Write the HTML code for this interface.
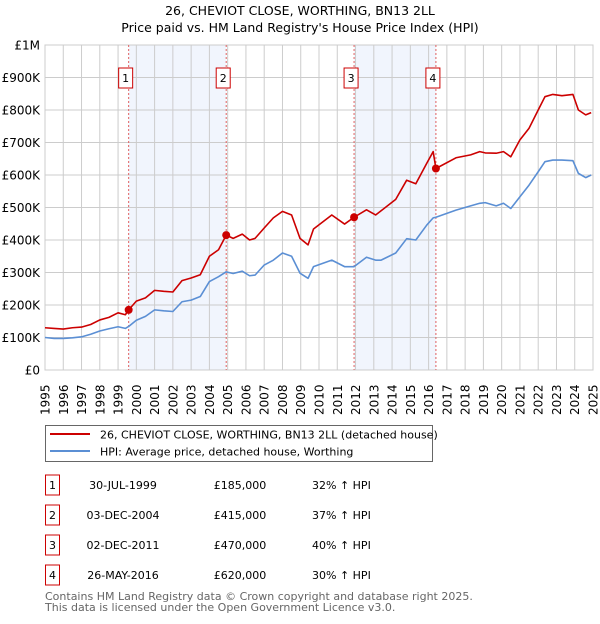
<!DOCTYPE html>
<html><head><meta charset="utf-8"><style>
body{margin:0;background:#fff;font-family:"DejaVu Sans","Liberation Sans",sans-serif;}
svg text{font-family:"DejaVu Sans","Liberation Sans",sans-serif;}
</style></head><body>
<svg id="c" width="600" height="620">
<text x="300" y="15" font-size="12.5" text-anchor="middle">26, CHEVIOT CLOSE, WORTHING, BN13 2LL</text>
<text x="300" y="32" font-size="12.5" text-anchor="middle">Price paid vs. HM Land Registry's House Price Index (HPI)</text>
<g id="plot"></g>
<g>
<rect x="45.5" y="425.5" width="387" height="36" fill="#fff" stroke="#666"/>
<line x1="50" y1="434" x2="90" y2="434" stroke="#cc0000" stroke-width="2"/>
<text x="100" y="438.5" font-size="11">26, CHEVIOT CLOSE, WORTHING, BN13 2LL (detached house)</text>
<line x1="50" y1="451" x2="90" y2="451" stroke="#5b8fd4" stroke-width="2"/>
<text x="100" y="455.5" font-size="11">HPI: Average price, detached house, Worthing</text>
</g>
<g id="tbl"></g>
<text x="45" y="600" font-size="11" fill="#666">Contains HM Land Registry data © Crown copyright and database right 2025.</text>
<text x="45" y="611" font-size="11" fill="#666">This data is licensed under the Open Government Licence v3.0.</text>
</svg>
<script>
const redT=[1995,1995.5,1996,1996.5,1997,1997.5,1998,1998.5,1999,1999.4,1999.58,2000,2000.5,2001,2001.5,2002,2002.5,2003,2003.5,2004,2004.5,2004.92,2005.3,2005.8,2006.2,2006.5,2007,2007.5,2008,2008.5,2008.96,2009.4,2009.7,2010.7,2011.4,2011.92,2012.6,2013.1,2013.4,2014.2,2014.8,2015.3,2015.9,2016.25,2016.4,2017.5,2018.3,2018.8,2019.1,2019.7,2020.1,2020.5,2021,2021.5,2022,2022.37,2022.8,2023.3,2023.9,2024.2,2024.6,2024.9];
const redV=[130,128,126,130,132,140,154,162,176,170,185,212,222,245,242,240,275,283,293,350,370,415,405,418,400,405,437,468,488,477,405,385,434,477,449,470,493,477,490,525,584,573,636,672,620,653,662,672,668,667,672,656,708,744,800,841,848,844,848,800,785,792];
const hpiT=[1995,1995.5,1996,1996.5,1997,1997.5,1998,1998.5,1999,1999.4,1999.58,2000,2000.5,2001,2001.5,2002,2002.5,2003,2003.5,2004,2004.5,2004.92,2005.3,2005.8,2006.2,2006.5,2007,2007.5,2008,2008.5,2008.96,2009.4,2009.7,2010.7,2011.4,2011.92,2012.6,2013.1,2013.4,2014.2,2014.8,2015.3,2015.9,2016.25,2016.4,2017.5,2018.3,2018.8,2019.1,2019.7,2020.1,2020.5,2021,2021.5,2022,2022.37,2022.8,2023.3,2023.9,2024.2,2024.6,2024.9];
const hpiV=[100,97,97,99,102,110,120,127,133,128,134,153,165,185,182,180,210,215,226,272,287,302,297,304,290,292,323,338,360,350,298,282,318,338,318,318,347,338,338,360,404,400,446,468,470,492,505,513,515,505,513,497,533,569,610,641,646,646,644,605,592,600];
const saleT=[1999.58,2004.92,2011.92,2016.4];
const saleV=[185,415,470,620];
const saleLabels=["1","2","3","4"];
const saleDates=["30-JUL-1999","03-DEC-2004","02-DEC-2011","26-MAY-2016"];
const salePrices=["£185,000","£415,000","£470,000","£620,000"];
const saleHpi=["32% ↑ HPI","37% ↑ HPI","40% ↑ HPI","30% ↑ HPI"];
const yTicks=[0,100,200,300,400,500,600,700,800,900,1000];
const yTickLabels=["£0","£100K","£200K","£300K","£400K","£500K","£600K","£700K","£800K","£900K","£1M"];
const xYears=[1995,1996,1997,1998,1999,2000,2001,2002,2003,2004,2005,2006,2007,2008,2009,2010,2011,2012,2013,2014,2015,2016,2017,2018,2019,2020,2021,2022,2023,2024,2025];
const L=45,R=593,T=45,B=370;
const xs=t=>L+(t-1995)/30*(R-L);
const ys=v=>B-v/1000*(B-T);
const NS="http://www.w3.org/2000/svg";
const plot=document.getElementById('plot');
function mk(tag,attrs,parent){const e=document.createElementNS(NS,tag);for(const k in attrs)e.setAttribute(k,attrs[k]);(parent||plot).appendChild(e);return e;}
// shading
for(let i=0;i<saleT.length;i+=2){
 const r=mk('rect',{x:xs(saleT[i]),y:T,width:xs(saleT[i+1])-xs(saleT[i]),height:B-T,fill:'#eef3fc',opacity:0.8});
 
 
}
// grid
xYears.forEach(y=>{const l=mk('line',{x1:xs(y),x2:xs(y),y1:T,y2:B,stroke:'#cccccc','stroke-width':1});
 
 
 const t=mk('text',{transform:`translate(${xs(y)+4.5},${B+45}) rotate(-90)`,'font-size':12});
 t.textContent=y;
 
 
});
for(let t=1995;t<2025;t+=0.25){if(Math.abs(t-Math.round(t))<0.01)continue;} 
yTicks.forEach((v,i)=>{const l=mk('line',{x1:L,x2:R,y1:ys(v),y2:ys(v),stroke:'#cccccc','stroke-width':1});
 
 
 const t=mk('text',{x:40,y:ys(v)+4.5,'font-size':12,'text-anchor':'end'});
 t.textContent=yTickLabels[i];
 
 
});
const fr=mk('rect',{x:L,y:T,width:R-L,height:B-T,fill:'none',stroke:'#cccccc'});


// sale vlines
saleT.forEach((s,i)=>{const l=mk('line',{x1:xs(s),x2:xs(s),y1:T,y2:B,stroke:'#e06060','stroke-width':1,'stroke-dasharray':'2,2'});
 
 
 const g=mk('g',{});
 
 
 mk('rect',{x:xs(s)-10,y:68,width:14,height:20,fill:'#fff',stroke:'#cc0000'},g);
 const t=mk('text',{x:xs(s)-3,y:82,'font-size':11,'text-anchor':'middle'},g);t.textContent=saleLabels[i];
});
function line(T_,V_,col,name){const p=mk('polyline',{points:T_.map((t,i)=>xs(t)+','+ys(V_[i])).join(' '),fill:'none',stroke:col,'stroke-width':1.6,'stroke-linejoin':'round'});
 
 }
line(hpiT,hpiV,'#5b8fd4','hpi-line');
line(redT,redV,'#cc0000','price-paid-line');
saleT.forEach((s,i)=>{const c=mk('circle',{cx:xs(s),cy:ys(saleV[i]),r:4,fill:'#cc0000'});
 
 });
// table
const tbl=document.getElementById('tbl');
saleDates.forEach((d,i)=>{const y=485+i*30;
 const g=mk('g',{},tbl);
 
 
 mk('rect',{x:45.5,y:y-10,width:14,height:20,fill:'#fff',stroke:'#cc0000'},g);
 const n=mk('text',{x:52.5,y:y+4,'font-size':11,'text-anchor':'middle'},g);n.textContent=saleLabels[i];
 const a=mk('text',{x:123,y:y+4,'font-size':11,'text-anchor':'middle'},g);a.textContent=d;
 const b=mk('text',{x:240,y:y+4,'font-size':11,'text-anchor':'middle'},g);b.textContent=salePrices[i];
 const c=mk('text',{x:312,y:y+4,'font-size':11},g);c.textContent=saleHpi[i];
});
</script>
</body></html>
